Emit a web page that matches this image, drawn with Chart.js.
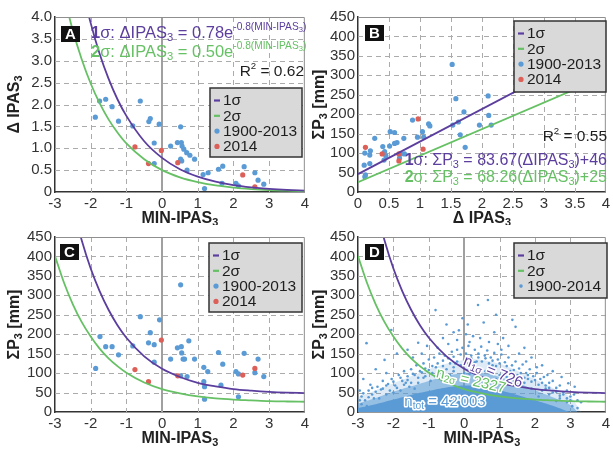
<!DOCTYPE html>
<html>
<head>
<meta charset="utf-8">
<script src="https://cdn.jsdelivr.net/npm/chart.js@4.4.1/dist/chart.umd.min.js"></script>
<style>
body { margin: 0; background: #fff; }
#wrap { position: relative; width: 613px; height: 449px; overflow: hidden; }
canvas { position: absolute; }
</style>
</head>
<body>
<div id="wrap">
<canvas id="chA" width="312" height="225" style="left:0;top:0"></canvas>
<canvas id="chB" width="308" height="225" style="left:305px;top:0"></canvas>
<canvas id="chC" width="312" height="229" style="left:0;top:220px"></canvas>
<canvas id="chD" width="308" height="229" style="left:305px;top:220px"></canvas>
</div>
<script>
const PURPLE = '#5b3e9e', GREEN = '#66c064', BLUE = '#5b9bd5', RED = '#dc5f58';
const FONT = '"Liberation Sans", Arial, sans-serif';

// fitted curves, read along MIN-IPAS3
const curveX = [-3, -2.75, -2.5, -2.25, -2, -1.75, -1.5, -1.25, -1, -0.5, 0, 0.5, 1, 1.5, 2, 2.5, 3, 3.5, 4];
const a1sY = [8.6, 7.04, 5.76, 4.72, 3.86, 3.16, 2.59, 2.12, 1.74, 1.16, 0.78, 0.52, 0.35, 0.235, 0.157, 0.106, 0.071, 0.047, 0.032];
const a2sY = [5.51, 4.51, 3.69, 3.03, 2.48, 2.03, 1.66, 1.36, 1.11, 0.75, 0.50, 0.335, 0.225, 0.15, 0.10, 0.068, 0.045, 0.03, 0.02];
const c1sY = [765, 635, 528, 441, 369, 311, 263, 223, 191, 143, 111, 90, 75, 66, 59, 55, 52, 50, 48.7];
const c2sY = [401, 333, 277, 231, 194, 163, 138, 118, 101, 76, 59, 48, 40, 35, 32, 30, 28, 27, 26.4];

// panel A : MIN-IPAS3 vs delta IPAS3
const aBlueX = [-1.87,-1.75,-1.58,-1.40,-1.22,-0.82,-0.61,-0.37,-0.33,-0.08,-0.22,-0.22,0.24,0.43,0.54,0.52,0.56,0.61,0.69,0.78,0.91,0.52,0.55,0.70,1.15,1.29,1.19,1.58,1.70,1.68,2.07,2.14,2.30,2.60,2.69,2.85];
const aBlueY = [1.71,2.08,2.12,1.95,1.62,1.51,2.08,1.61,1.68,1.55,1.12,0.65,1.05,1.13,1.13,1.49,1.05,0.98,0.90,0.84,0.75,0.75,0.71,0.50,0.40,0.44,0.08,0.52,0.59,0.20,0.20,0.14,0.58,0.44,0.27,0.18];
const aRedX = [-0.76, -0.38, -0.02, 0.44, 2.26, 2.60];
const aRedY = [1.03, 0.65, 0.95, 0.67, 0.39, 0.12];

// panel B : delta IPAS3 vs sum P3
const bLineX = [0, 4];
const b1sY = [46, 380.7];
const b2sY = [25, 298];
const bBlueX = [0.11,0.19,0.20,0.27,0.10,0.19,0.11,0.12,0.40,0.43,0.45,0.42,0.52,0.59,0.59,0.63,0.51,0.69,0.74,0.88,0.96,1.04,1.06,1.14,1.16,1.52,1.58,1.71,1.53,1.62,1.65,1.73,1.96,2.10,2.11,2.15,0.67,0.75];
const bBlueY = [100,95,106,138,69,73,39,44,117,104,93,82,155,153,125,127,118,98,138,185,141,155,141,175,170,328,240,206,172,180,147,115,172,247,197,172,87,98];
const bRedX = [0.12, 0.39, 0.66, 0.66, 0.97, 1.05];
const bRedY = [115, 98, 98, 80, 188, 110];

// panel C : MIN-IPAS3 vs sum P3
const cBlueX = [-1.86,-1.74,-1.58,-1.40,-1.22,-0.82,-0.61,-0.33,-0.38,-0.22,-0.07,-0.22,0.52,0.24,0.43,0.54,0.55,0.59,0.52,0.75,0.63,0.91,0.70,1.17,1.28,1.17,1.19,1.19,1.58,1.70,1.65,2.07,2.14,2.14,2.30,2.60,2.69,2.85];
const cBlueY = [112,194,168,168,147,170,245,204,178,173,237,128,327,136,165,168,152,136,93,183,136,136,91,115,104,78,65,33,153,123,69,104,98,39,151,101,136,91];
const cRedX = [-0.76, -0.38, -0.02, 0.44, 2.26, 2.60];
const cRedY = [109, 78, 185, 93, 95, 112];

// panel D : all days 1900-2014, dense core as envelopes + loose points
const dSolidX = [-3, -2.5, -2, -1.5, -1, -0.5, 0, 0.5, 1, 1.5, 2, 2.5, 2.8, 3];
const dSolidY = [10, 20, 32, 44, 54, 63, 68, 66, 56, 44, 30, 16, 6, 0];
const dMidX = [-3, -2.5, -2, -1.5, -1, -0.5, 0, 0.5, 1, 1.5, 2, 2.5, 3, 3.2];
const dMidY = [22, 36, 52, 66, 80, 92, 100, 100, 90, 75, 56, 38, 18, 0];
const dOuterX = [-3, -2.5, -2, -1.5, -1, -0.5, 0, 0.5, 1, 1.5, 2, 2.5, 3, 3.3];
const dOuterY = [38, 56, 74, 92, 110, 124, 134, 134, 124, 106, 84, 62, 38, 0];
const dCloud = [
  [-2.76,177],[-2.06,211],[-2.25,134],[-0.81,262],[-0.05,241],[0.39,275],[0.67,288],[1.36,237],[1.45,219],[-0.3,205],
  [0.1,225],[0.55,230],[-1.3,178],[-0.6,190],[0.85,205],[1.1,190],[1.7,165],[2.2,120],[2.5,105],[2.94,74],
  [3.12,65],[2.75,90],[-1.9,150],[-2.5,110],[-2.85,85],[-1.6,160],[-1.05,170],[-0.2,185],[0.25,195],[0.95,175],
  [1.55,150],[1.9,140],[2.35,95],[-0.45,175],[0.7,180],[0.05,200],[1.25,170],[-1.2,150],[-2.2,100],[-2.65,70],
  [-2.95,55],[-2.9,40],[-2.8,30],[-2.7,55],[-2.6,45],[-2.45,65],[-2.35,58],[-2.3,80],[-2.15,72],[-2.05,85],
  [-1.95,68],[-1.85,95],[-1.75,80],[-1.7,105],[-1.6,92],[-1.5,110],[-1.45,98],[-1.35,120],[-1.25,105],[-1.15,125],
  [-1.1,112],[-1.0,135],[-0.9,118],[-0.85,140],[-0.75,125],[-0.7,150],[-0.6,132],[-0.55,145],[-0.45,138],[-0.35,155],
  [-0.3,142],[-0.2,160],[-0.1,148],[-0.05,165],[0.05,150],[0.12,170],[0.2,145],[0.3,160],[0.4,150],[0.48,168],
  [0.58,145],[0.65,158],[0.75,140],[0.85,152],[0.95,135],[1.05,148],[1.15,128],[1.25,140],[1.35,120],[1.45,130],
  [1.55,112],[1.65,122],[1.75,100],[1.85,110],[1.95,92],[2.05,100],[2.15,85],[2.25,90],[2.4,75],[2.5,80],
  [2.6,62],[2.7,68],[2.8,50],[2.9,55],[3.0,40],[3.1,45],[3.2,30],[3.3,25],[-1.8,55],[-1.3,75],
  [-0.8,90],[-0.3,105],[0.2,110],[0.7,100],[1.2,90],[1.7,75],[2.2,55],[2.7,35],[-2.2,45],[-1.55,65],
  [-0.95,80],[-0.4,95],[0.15,98],[0.6,105],[1.0,95],[1.4,80],[1.9,60],[2.4,45],[2.9,25],[-2.55,35],
  [-2.0,50],[-1.4,60],[-0.65,85],[0.0,100],[0.9,85],[1.6,65],[2.1,40],[2.6,28],[-2.9,20],[-2.75,15],
  [3.05,15],[3.2,10],[-1.65,75],[-1.15,88],[-0.25,125],[0.35,130],[0.8,120],[1.3,105],[1.8,85],[2.3,68],
  [-2.95,30],[-2.85,48],[-2.7,38],[-2.6,62],[-2.5,52],[-2.4,35],[-2.3,60],[-2.2,68],[-2.1,55],[-2.0,78],
  [-1.9,62],[-1.8,88],[-1.7,70],[-1.6,82],[-1.5,75],[-1.4,95],[-1.3,88],[-1.2,102],[-1.1,92],[-1.0,108],
  [-0.9,100],[-0.8,115],[-0.7,105],[-0.6,118],[-0.5,110],[-0.4,125],[-0.3,115],[-0.2,130],[-0.1,120],[0.0,135],
  [0.1,125],[0.2,138],[0.3,128],[0.4,140],[0.5,130],[0.6,138],[0.7,125],[0.8,132],[0.9,118],[1.0,125],
  [1.1,110],[1.2,118],[1.3,100],[1.4,108],[1.5,95],[1.6,100],[1.7,88],[1.8,95],[1.9,78],[2.0,82],
  [2.1,70],[2.2,75],[2.3,60],[2.4,62],[2.5,50],[2.6,52],[2.7,42],[2.8,45],[2.9,35],[3.0,30],
  [-0.75,165],[0.45,190],[1.05,160],[-1.45,140],[1.75,130],[0.15,180],[-0.15,210],[0.9,250],[-0.5,225],[2.05,115]
];

const xyPts = (xs, ys) => xs.map((x, i) => ({x: x, y: ys[i]}));

// ---------- rich text (sub / superscripts) ----------
function partFont(p, o) {
  const k = p.k || '';
  let sz = o.size, dy = 0;
  if (k === 's') { sz = o.size * 0.68; dy = o.size * 0.28; }
  if (k === 'p') { sz = o.size * 0.62; dy = -o.size * 0.38; }
  if (k === 'ps') { sz = o.size * 0.46; dy = -o.size * 0.2; }
  const w = (p.b || o.bold) ? 'bold ' : '';
  return {font: w + sz.toFixed(1) + 'px ' + FONT, dy: dy};
}
function drawRich(ctx, parts, x, y, o) {
  ctx.save();
  ctx.translate(x, y);
  if (o.rot) ctx.rotate(o.rot * Math.PI / 180);
  ctx.textBaseline = 'middle';
  ctx.textAlign = 'left';
  let total = 0;
  const ws = parts.map(p => {
    ctx.font = partFont(p, o).font;
    const w = ctx.measureText(p.t).width;
    total += w;
    return w;
  });
  const x0 = o.align === 'right' ? -total : (o.align === 'center' ? -total / 2 : 0);
  if (o.stroke) {
    let cx = x0;
    ctx.lineWidth = o.stroke; ctx.strokeStyle = '#fff'; ctx.lineJoin = 'round';
    parts.forEach((p, i) => { const f = partFont(p, o); ctx.font = f.font; ctx.strokeText(p.t, cx, f.dy); cx += ws[i]; });
  }
  let cx = x0;
  ctx.fillStyle = o.color || '#222';
  parts.forEach((p, i) => { const f = partFont(p, o); ctx.font = f.font; ctx.fillText(p.t, cx, f.dy); cx += ws[i]; });
  ctx.restore();
}

// ---------- dashed grid, zero line, frame, letter, legend, notes, axis titles ----------
function makeDecor(cfg) {
  return {
    id: 'decor',
    beforeDatasetsDraw(chart) {
      const ctx = chart.ctx, a = chart.chartArea;
      const sx = chart.scales.x, sy = chart.scales.y;
      ctx.save();
      ctx.strokeStyle = '#ababab'; ctx.lineWidth = 1;
      ctx.setLineDash([5, 4]);
      ctx.beginPath();
      sx.ticks.forEach(t => {
        if (t.value === sx.min || t.value === sx.max) return;
        if (cfg.zeroLine && t.value === 0) return;
        const px = Math.round(sx.getPixelForValue(t.value)) + 0.5;
        ctx.moveTo(px, a.top); ctx.lineTo(px, a.bottom);
      });
      sy.ticks.forEach(t => {
        if (t.value === sy.min || t.value === sy.max) return;
        const py = Math.round(sy.getPixelForValue(t.value)) + 0.5;
        ctx.moveTo(a.left, py); ctx.lineTo(a.right, py);
      });
      ctx.stroke();
      ctx.setLineDash([]);
      if (cfg.zeroLine) {
        const x0 = Math.round(sx.getPixelForValue(0));
        ctx.strokeStyle = '#a0a0a0'; ctx.lineWidth = 2;
        ctx.beginPath(); ctx.moveTo(x0, a.top); ctx.lineTo(x0, a.bottom); ctx.stroke();
      }
      ctx.restore();
    },
    afterDatasetsDraw(chart) {
      const ctx = chart.ctx, a = chart.chartArea;
      ctx.save();
      ctx.strokeStyle = '#8f8f8f'; ctx.lineWidth = 1;
      ctx.beginPath();
      ctx.moveTo(a.left, a.top + 0.5);
      ctx.lineTo(a.right - 0.5, a.top + 0.5);
      ctx.lineTo(a.right - 0.5, a.bottom);
      ctx.stroke();
      ctx.restore();

      (cfg.notes || []).forEach(n => drawRich(ctx, n.parts, n.x, n.y, n));

      const L = cfg.legend;
      ctx.save();
      ctx.fillStyle = '#d9d9d9';
      ctx.fillRect(L.x, L.y, L.w, L.h);
      ctx.strokeStyle = '#333'; ctx.lineWidth = 1.5;
      ctx.strokeRect(L.x, L.y, L.w, L.h);
      L.items.forEach((it, i) => {
        const y = L.y + 12.5 + i * 15.3;
        if (it.kind === 'line') {
          ctx.strokeStyle = it.color; ctx.lineWidth = 2.2;
          ctx.beginPath(); ctx.moveTo(L.x + 4, y); ctx.lineTo(L.x + 10, y); ctx.stroke();
        } else {
          ctx.fillStyle = it.color;
          ctx.beginPath(); ctx.arc(L.x + 7, y, it.r || 2.6, 0, Math.PI * 2); ctx.fill();
        }
        ctx.fillStyle = '#1e1e1e';
        ctx.font = '15.5px ' + FONT;
        ctx.textBaseline = 'middle'; ctx.textAlign = 'left';
        ctx.fillText(it.text, L.x + 13, y + 0.5);
      });
      ctx.restore();

      ctx.save();
      ctx.fillStyle = '#111';
      ctx.fillRect(cfg.letterPos[0], cfg.letterPos[1], 19, 16);
      ctx.fillStyle = '#fff';
      ctx.font = 'bold 15px ' + FONT;
      ctx.textAlign = 'center'; ctx.textBaseline = 'middle';
      ctx.fillText(cfg.letter, cfg.letterPos[0] + 9.5, cfg.letterPos[1] + 8.5);
      ctx.restore();
    },
    afterDraw(chart) {
      const ctx = chart.ctx, a = chart.chartArea;
      drawRich(ctx, cfg.xTitle, (a.left + a.right) / 2, a.bottom + 27, {size: 16, bold: true, color: '#222', align: 'center'});
      drawRich(ctx, cfg.yTitle, 15, (a.top + a.bottom) / 2, {size: 16, bold: true, color: '#222', align: 'center', rot: -90});
    }
  };
}

function axis(min, max, step, size, fmt) {
  return {
    type: 'linear', min: min, max: max,
    ticks: {
      stepSize: step, color: '#333', padding: 3, maxRotation: 0, autoSkip: false,
      font: {size: 15, family: FONT},
      callback: fmt || (v => String(v))
    },
    grid: {display: false, drawTicks: false},
    border: {display: true, color: '#333', width: 1.5},
    afterFit: size
  };
}

function lineSet(xs, ys, color) {
  return {type: 'line', data: xyPts(xs, ys), borderColor: color, borderWidth: 1.8,
          pointRadius: 0, fill: false, cubicInterpolationMode: 'monotone'};
}
function dotSet(xs, ys, color, label) {
  return {label: label, data: xyPts(xs, ys), backgroundColor: color, borderWidth: 0, pointRadius: 2.6};
}
function bandSet(xs, ys, color) {
  return {type: 'line', data: xyPts(xs, ys), borderWidth: 0, pointRadius: 0, tension: 0.4,
          backgroundColor: color, fill: 'origin'};
}

function makePanel(id, datasets, xAx, yAx, padRight, decor) {
  return new Chart(document.getElementById(id), {
    type: 'scatter',
    data: {datasets: datasets},
    options: {
      responsive: false, animation: false,
      layout: {padding: {top: 17, right: padRight, left: 0, bottom: 0}},
      plugins: {legend: {display: false}, tooltip: {enabled: false}},
      scales: {x: xAx, y: yAx}
    },
    plugins: [makeDecor(decor)]
  });
}

const oneDec = v => (v === 0 ? '0' : v.toFixed(1));
const sig = [{kind: 'line', color: PURPLE, text: '1σ'}, {kind: 'line', color: GREEN, text: '2σ'}];
const yearItems = [{kind: 'dot', color: BLUE, text: '1900-2013'}, {kind: 'dot', color: RED, text: '2014'}];
const minTitle = [{t: 'MIN-IPAS'}, {t: '3', k: 's'}];
const sumTitle = [{t: 'ΣP'}, {t: '3', k: 's'}, {t: ' [mm]'}];
const dTitle = [{t: 'Δ IPAS'}, {t: '3', k: 's'}];

// A
makePanel('chA',
  [lineSet(curveX, a1sY, PURPLE), lineSet(curveX, a2sY, GREEN),
   dotSet(aRedX, aRedY, RED, '2014'), dotSet(aBlueX, aBlueY, BLUE, '1900-2013')],
  axis(-3, 4, 1, s => { s.height = 33; }),
  axis(0, 4, 0.5, s => { s.width = 55; }, oneDec),
  5,
  {letter: 'A', letterPos: [61, 26], zeroLine: true, xTitle: minTitle, yTitle: dTitle,
   legend: {x: 210, y: 88, w: 92, h: 69, items: sig.concat(yearItems)},
   notes: [
     {parts: [{t: '1', b: 1}, {t: 'σ: ΔIPAS'}, {t: '3', k: 's'}, {t: ' = 0.78e'}, {t: '-0.8(MIN-IPAS', k: 'p'}, {t: '3', k: 'ps'}, {t: ')', k: 'p'}],
      x: 91, y: 33, size: 16.5, color: PURPLE},
     {parts: [{t: '2', b: 1}, {t: 'σ: ΔIPAS'}, {t: '3', k: 's'}, {t: ' = 0.50e'}, {t: '-0.8(MIN-IPAS', k: 'p'}, {t: '3', k: 'ps'}, {t: ')', k: 'p'}],
      x: 91, y: 52, size: 16.5, color: GREEN},
     {parts: [{t: 'R'}, {t: '2', k: 'p'}, {t: ' = 0.62'}], x: 304, y: 72, size: 15.5, color: '#1e1e1e', align: 'right'}
   ]});

// B
makePanel('chB',
  [lineSet(bLineX, b1sY, PURPLE), lineSet(bLineX, b2sY, GREEN),
   dotSet(bRedX, bRedY, RED, '2014'), dotSet(bBlueX, bBlueY, BLUE, '1900-2013')],
  axis(0, 4, 0.5, s => { s.height = 33; }),
  axis(0, 450, 50, s => { s.width = 53; }),
  3,
  {letter: 'B', letterPos: [60, 25], zeroLine: false, xTitle: dTitle, yTitle: sumTitle,
   legend: {x: 209, y: 21, w: 92, h: 71, items: sig.concat(yearItems)},
   notes: [
     {parts: [{t: 'R'}, {t: '2', k: 'p'}, {t: ' = 0.55'}], x: 302, y: 137, size: 15.5, color: '#1e1e1e', align: 'right'},
     {parts: [{t: '1', b: 1}, {t: 'σ: ΣP'}, {t: '3', k: 's'}, {t: ' = 83.67(ΔIPAS'}, {t: '3', k: 's'}, {t: ')+46'}],
      x: 302, y: 161, size: 16, color: PURPLE, align: 'right'},
     {parts: [{t: '2', b: 1}, {t: 'σ: ΣP'}, {t: '3', k: 's'}, {t: ' = 68.26(ΔIPAS'}, {t: '3', k: 's'}, {t: ')+25'}],
      x: 302, y: 178, size: 16, color: GREEN, align: 'right'}
   ]});

// C
makePanel('chC',
  [lineSet(curveX, c1sY, PURPLE), lineSet(curveX, c2sY, GREEN),
   dotSet(cRedX, cRedY, RED, '2014'), dotSet(cBlueX, cBlueY, BLUE, '1900-2013')],
  axis(-3, 4, 1, s => { s.height = 37; }),
  axis(0, 450, 50, s => { s.width = 55; }),
  5,
  {letter: 'C', letterPos: [60, 24], zeroLine: true, xTitle: minTitle, yTitle: sumTitle,
   legend: {x: 209, y: 23, w: 93, h: 69, items: sig.concat(yearItems)},
   notes: []});

// D
makePanel('chD',
  [lineSet(curveX, c1sY, PURPLE), lineSet(curveX, c2sY, GREEN),
   {label: '1900-2014', data: dCloud.map(p => ({x: p[0], y: p[1]})), backgroundColor: BLUE, borderWidth: 0, pointRadius: 1.3},
   bandSet(dSolidX, dSolidY, BLUE),
   bandSet(dMidX, dMidY, 'rgba(91,155,213,0.55)'),
   bandSet(dOuterX, dOuterY, 'rgba(91,155,213,0.2)')],
  axis(-3, 4, 1, s => { s.height = 37; }),
  axis(0, 450, 50, s => { s.width = 53; }),
  3,
  {letter: 'D', letterPos: [60, 24], zeroLine: true, xTitle: minTitle, yTitle: sumTitle,
   legend: {x: 209, y: 23, w: 93, h: 55, items: sig.concat([{kind: 'dot', color: BLUE, text: '1900-2014', r: 1.8}])},
   notes: [
     {parts: [{t: 'n'}, {t: '1σ', k: 's'}, {t: ' = 726'}], x: 188, y: 152, size: 15, color: PURPLE, align: 'center', rot: 22, stroke: 3},
     {parts: [{t: 'n'}, {t: '2σ', k: 's'}, {t: ' = 2327'}], x: 166, y: 161, size: 15, color: GREEN, align: 'center', rot: 13, stroke: 3},
     {parts: [{t: 'n'}, {t: 'tot', k: 's'}, {t: " = 42'003"}], x: 140, y: 182, size: 15, color: BLUE, align: 'center', stroke: 3}
   ]});
</script>
</body>
</html>
